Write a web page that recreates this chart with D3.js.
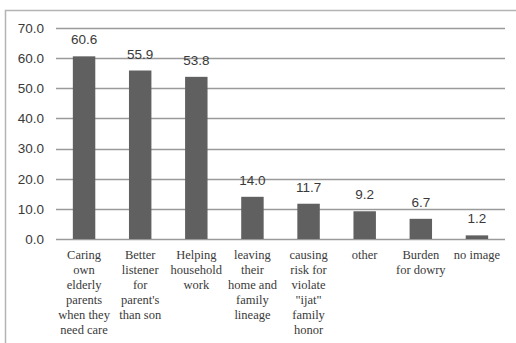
<!DOCTYPE html>
<html>
<head>
<meta charset="utf-8">
<script src="https://cdn.jsdelivr.net/npm/d3@7"></script>
<style>
  html, body { margin: 0; padding: 0; background: #fff; }
  svg { display: block; }
</style>
</head>
<body>
<svg id="chart" width="516" height="343"></svg>
<script>
// Category labels, one entry per bar, split into display lines
const categories = [
  ["Caring", "own", "elderly", "parents", "when they", "need care"],
  ["Better", "listener", "for", "parent's", "than son"],
  ["Helping", "household", "work"],
  ["leaving", "their", "home and", "family", "lineage"],
  ["causing", "risk for", "violate", "\"ijat\"", "family", "honor"],
  ["other"],
  ["Burden", "for dowry"],
  ["no image"]
];
const values = [60.6, 55.9, 53.8, 14.0, 11.7, 9.2, 6.7, 1.2];
const yTicks = [0, 10, 20, 30, 40, 50, 60, 70];

const svg = d3.select("#chart");
const W = 516, H = 343;
const plot = { left: 56, right: 505, top: 28, bottom: 239 };
const fmt = d3.format(".1f");

// Outer frame (left and top edges only visible)
svg.append("path")
  .attr("d", `M5.5,${H} V10.5 H${W}`)
  .attr("fill", "none")
  .attr("stroke", "#b4b4b4")
  .attr("stroke-width", 1.5);

const x = d3.scaleBand()
  .domain(d3.range(values.length))
  .range([plot.left, plot.right])
  .paddingInner(0.6)
  .paddingOuter(0.3);

const y = d3.scaleLinear()
  .domain([0, 70])
  .range([plot.bottom, plot.top]);

// Horizontal gridlines
svg.append("g")
  .selectAll("line")
  .data(yTicks)
  .join("line")
  .attr("x1", plot.left)
  .attr("x2", plot.right)
  .attr("y1", d => Math.round(y(d)) + 0.5)
  .attr("y2", d => Math.round(y(d)) + 0.5)
  .attr("stroke", "#9a9a9a")
  .attr("stroke-width", 1.3);

// Y axis labels
const yAxis = d3.axisLeft(y)
  .tickValues(yTicks)
  .tickFormat(fmt)
  .tickSize(0)
  .tickPadding(12);
const gy = svg.append("g")
  .attr("transform", `translate(${plot.left},0)`)
  .call(yAxis);
gy.select(".domain").remove();
gy.selectAll("text")
  .attr("font-family", "'Liberation Sans', Arial, sans-serif")
  .attr("font-size", 13.5)
  .attr("fill", "#3a3a3a");

// Bars
svg.append("g")
  .selectAll("rect")
  .data(values)
  .join("rect")
  .attr("x", (d, i) => x(i))
  .attr("width", x.bandwidth())
  .attr("y", d => y(d))
  .attr("height", d => y(0) - y(d))
  .attr("fill", "#606060");

// Value labels above bars
svg.append("g")
  .selectAll("text")
  .data(values)
  .join("text")
  .attr("x", (d, i) => x(i) + x.bandwidth() / 2)
  .attr("y", d => y(d) - 12)
  .attr("text-anchor", "middle")
  .attr("font-family", "'Liberation Sans', Arial, sans-serif")
  .attr("font-size", 13.5)
  .attr("fill", "#3a3a3a")
  .text(d => fmt(d));

// Category labels below the axis
const catG = svg.append("g");
categories.forEach((lines, i) => {
  const cx = x(i) + x.bandwidth() / 2;
  const t = catG.append("text")
    .attr("x", cx)
    .attr("y", 259)
    .attr("text-anchor", "middle")
    .attr("font-family", "'Liberation Serif', 'Times New Roman', serif")
    .attr("font-size", 12.5)
    .attr("fill", "#3a3a3a");
  lines.forEach((ln, k) => {
    t.append("tspan")
      .attr("x", cx)
      .attr("dy", k === 0 ? 0 : 15)
      .text(ln);
  });
});
</script>
</body>
</html>
